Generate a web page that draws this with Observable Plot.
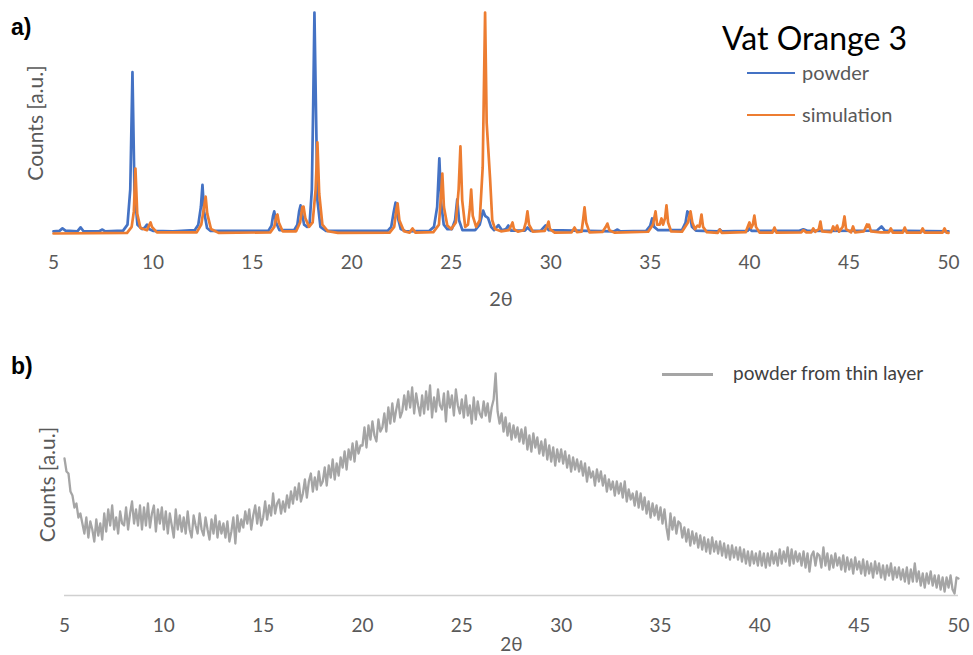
<!DOCTYPE html>
<html><head><meta charset="utf-8">
<script src="https://cdn.jsdelivr.net/npm/d3@7"></script>
<script src="https://cdn.jsdelivr.net/npm/@observablehq/plot@0.6"></script>
<style>
body{margin:0;background:#fff;font-family:Lato,sans-serif}
#wrap{position:relative;width:973px;height:655px;overflow:hidden;background:#fff}
.abs{position:absolute;white-space:nowrap;line-height:1}
.ln{position:absolute;height:0}
</style></head><body><div id="wrap"></div>
<script>
// ---------- data ----------
const xTicks = [5, 10, 15, 20, 25, 30, 35, 40, 45, 50];

// panel a: powder (blue), [2θ, counts a.u.]
const powder = [
[5,1],[5.3,1.2],[5.45,2.3],[5.6,1.3],[6.2,1],[6.36,2.8],[6.5,1.1],[7.3,1],[7.46,1.8],[7.6,1],
[8.5,1.3],[8.72,4],[8.86,20],[8.97,73],[9.07,20],[9.22,4],[9.45,2],[9.6,2.8],[9.7,4],[9.8,2],[10,1.2],
[11,1],[12.1,1.5],[12.28,4],[12.41,12],[12.49,22],[12.57,10],[12.72,2.5],[12.9,1.2],
[15.8,1.2],[15.96,3.5],[16.04,8],[16.1,10],[16.19,5],[16.36,1.5],
[17.1,1.5],[17.26,4],[17.35,10],[17.42,12.7],[17.5,9],[17.6,4],[17.75,3],[17.88,5],[17.99,20],[18.06,60],[18.12,100],[18.19,60],[18.27,15],[18.42,3],[18.7,1.2],
[21.8,1.2],[21.98,3],[22.11,10],[22.2,14],[22.29,8],[22.46,2],[22.7,1],
[23.9,1.2],[24.13,3],[24.29,12],[24.4,34],[24.49,14],[24.62,4],[24.8,2],[25.03,2],[25.19,6],[25.3,15.4],[25.39,6],[25.56,1.5],
[26.2,1.5],[26.43,4],[26.6,10.4],[26.7,8],[26.85,7],[27.0,3],[27.15,1.5],[27.37,3.8],[27.55,1.5],[27.75,2],[27.87,3.6],[28.0,1.3],
[28.7,1.3],[28.83,2.7],[29,1.2],[29.5,1.3],[29.74,3.6],[29.9,1.5],
[33.2,1],[33.36,1.8],[33.5,1],[34.8,1.2],[35.0,3.5],[35.1,6.8],[35.2,3],[35.4,1.5],[36.6,1.5],[36.78,5],[36.87,10],[36.98,9],[37.1,3],[37.3,1.3],
[38.4,1],[38.5,1.8],[38.6,1],[39.9,1.2],[40.0,2.3],[40.1,1.2],[42.5,1.2],[42.7,1.9],[42.9,1.2],[46.4,1.3],[46.63,3.2],[46.8,1.3],[50,1]
];

// panel a: simulation (orange)
const simulation = [
[5,0],[8.7,0.3],[8.93,3],[9.04,10],[9.12,29.4],[9.21,9],[9.37,2.5],[9.7,1.5],[9.82,4],[9.88,5],[9.95,3],[10.2,0.5],
[12.2,0.5],[12.43,4],[12.57,12],[12.65,16.7],[12.73,9],[12.92,2],[13.3,0.3],
[15.9,0.5],[16.1,3],[16.21,8],[16.26,8.6],[16.33,5],[16.52,1],
[17.2,1],[17.4,5],[17.51,12],[17.57,12.2],[17.66,7],[17.85,3],[18.03,5],[18.18,20],[18.27,41.2],[18.36,18],[18.52,4],[18.8,1],[19.3,0.3],
[21.9,0.4],[22.13,3],[22.24,11],[22.3,13.6],[22.39,6],[22.62,1],[22.9,0.4],[23.05,2.3],[23.2,0.4],
[24.1,0.6],[24.38,4],[24.49,18],[24.55,27.1],[24.63,12],[24.8,3.6],[25.0,2],[25.23,5],[25.37,20],[25.46,39.4],[25.55,15],[25.7,3],[25.84,4],[25.94,12],[26.0,19.9],[26.08,8],[26.25,3],[26.43,6],[26.58,30],[26.7,100],[26.78,50],[26.87,36.7],[26.95,25],[27.06,6],[27.2,2],[27.5,1],[27.9,1.5],[28.01,3.5],[28.08,5],[28.15,2],[28.35,0.8],[28.64,1.5],[28.75,5],[28.83,10],[28.91,4],[29.1,0.8],[29.7,1.2],[29.82,3.5],[29.89,5.4],[29.96,2],[30.2,0.4],
[31.05,0.5],[31.2,2.7],[31.32,0.6],[31.55,0.8],[31.64,7],[31.7,11.8],[31.78,5],[31.95,0.5],[32.6,0.7],[32.77,3],[32.85,4.5],[32.95,1.5],[33.2,0.4],
[34.9,0.8],[35.14,4],[35.27,10],[35.35,4],[35.48,4],[35.57,6.8],[35.65,4],[35.75,7],[35.82,12.7],[35.9,5],[36.05,1],[36.6,0.8],[36.9,5],[37.03,10],[37.12,5],[37.25,2],[37.38,3.6],[37.48,3],[37.58,8.6],[37.66,3],[37.85,0.6],
[38.4,0.3],[38.5,1.8],[38.6,0.3],[39.8,0.6],[39.99,5],[40.08,2.5],[40.16,4],[40.24,8.1],[40.32,3],[40.5,0.4],[41.15,0.4],[41.25,2.7],[41.35,0.4],
[42.6,0.5],[42.7,1.5],[42.85,0.5],[43.1,0.5],[43.2,2.3],[43.3,0.8],[43.48,2],[43.56,5.4],[43.64,1],[44.1,0.6],[44.2,3.2],[44.3,1.5],[44.4,3.6],[44.5,0.8],[44.68,3],[44.77,7.7],[44.85,2],[45.1,0.5],[45.2,3.2],[45.3,0.5],[45.75,1],[45.9,4.1],[45.95,3],[46.0,4],[46.1,1],[46.6,0.5],[47.0,0.5],[47.1,2.3],[47.2,0.4],[47.7,0.4],[47.8,2.7],[47.9,0.4],[48.6,0.4],[48.7,2.3],[48.8,0.4],[49.7,0.4],[49.8,2.3],[49.9,0.4],[50,0.3]
];

// panel b: powder from thin layer, one value per 0.1° from 5.0 to 50.0
const thinStart = 5, thinStep = 0.1;
const thinLayer = [
137,124,122,104,100,88,92,78,82,72,
62,78,58,74,66,54,76,60,72,56,
82,64,86,70,90,66,78,62,84,72,
70,88,66,82,94,72,86,70,90,66,
88,70,92,68,82,90,64,86,72,88,
66,84,62,82,70,58,86,66,80,64,
78,62,84,66,58,80,70,62,82,66,
60,78,66,56,76,62,80,58,74,62,
72,58,74,54,64,78,52,80,64,76,
68,84,72,86,66,80,90,72,88,70,
78,94,76,90,80,102,82,92,96,82,
94,84,100,88,104,92,108,96,112,94,
102,116,98,114,122,104,118,106,124,110,
114,128,110,130,118,136,116,132,120,138,
128,144,126,146,136,152,134,154,142,150,
150,168,148,170,156,174,160,154,176,164,
168,182,164,188,172,192,174,186,196,178,
184,200,186,204,188,208,182,202,190,180,
200,182,204,186,210,178,198,184,206,190,
186,202,174,204,188,200,180,206,190,182,
196,178,200,180,190,172,198,176,194,182,
178,194,180,192,174,188,196,222,184,172,
182,164,178,160,172,156,170,158,168,154,
166,152,168,146,160,144,162,148,158,142,
154,140,156,136,150,134,148,130,146,134,
146,132,144,128,140,124,138,126,136,124,
134,120,132,114,128,118,124,110,126,114,
124,110,120,104,116,106,114,100,114,102,
112,98,114,94,106,96,102,90,104,88,
102,86,98,82,94,78,92,80,90,76,
88,72,86,68,56,82,66,78,62,74,
72,58,68,54,66,50,64,52,62,48,
60,46,58,44,56,42,58,44,54,42,
54,40,52,38,50,36,50,38,48,36,
48,34,46,32,44,30,44,32,42,30,
44,30,42,28,42,30,44,32,42,30,
46,32,44,34,48,30,46,32,44,34,
42,30,44,28,42,24,40,44,30,42,
40,28,48,30,42,26,40,28,42,30,
38,26,40,24,38,26,36,22,38,26,
34,22,36,20,34,22,32,18,34,22,
32,18,30,16,30,20,32,16,28,18,
28,16,26,14,28,12,26,14,32,14,
24,10,22,8,22,12,24,10,20,8,
20,6,18,4,18,8,20,6,2,18,
17
];

const legendA = [{name: "powder", color: "#4472C4"}, {name: "simulation", color: "#ED7D31"}];
const legendB = [{name: "powder from thin layer", color: "#A5A5A5"}];

// ---------- build ----------
const wrap = document.getElementById("wrap");
const txt = "#595959";
const thin = thinLayer.map((v, i) => ({x: +(thinStart + i * thinStep).toFixed(2), y: v}));

const A = Plot.plot({
  width: 973, height: 320,
  marginLeft: 53, marginRight: 25, marginTop: 12, marginBottom: 87,
  style: {fontFamily: "Lato", background: "transparent", overflow: "visible"},
  x: {domain: [5, 50]},
  y: {domain: [0, 100], axis: null},
  marks: [
    Plot.axisX({ticks: xTicks, tickSize: 0, tickPadding: 22, label: null, fontSize: 19, fill: txt, tickFormat: d => String(d)}),
    Plot.line(powder, {x: d => d[0], y: d => d[1], stroke: legendA[0].color, strokeWidth: 2.7, strokeLinejoin: "round"}),
    Plot.line(simulation, {x: d => d[0], y: d => d[1], stroke: legendA[1].color, strokeWidth: 2.7, strokeLinejoin: "round"}),
    Plot.text(["2θ"], {text: d => d, frameAnchor: "bottom", lineAnchor: "middle", textAnchor: "middle", dy: 66, fontSize: 20, fill: txt}),
    Plot.text(["Counts [a.u.]"], {text: d => d, frameAnchor: "left", lineAnchor: "middle", textAnchor: "middle", rotate: -90, dx: -17, fontSize: 21, fill: txt})
  ]
});
A.style.position = "absolute"; A.style.left = "0px"; A.style.top = "0px";
wrap.appendChild(A);

const B = Plot.plot({
  width: 973, height: 325,
  marginLeft: 64, marginRight: 15, marginTop: 43, marginBottom: 60,
  style: {fontFamily: "Lato", background: "transparent", overflow: "visible"},
  x: {domain: [5, 50]},
  y: {domain: [0, 222], axis: null},
  marks: [
    Plot.ruleY([0], {stroke: "#D0D0D0", strokeWidth: 1.5}),
    Plot.line(thin, {x: "x", y: "y", stroke: legendB[0].color, strokeWidth: 2.3, strokeLinejoin: "round"}),
    Plot.axisX({ticks: xTicks, tickSize: 0, tickPadding: 23, label: null, fontSize: 19, fill: txt, tickFormat: d => String(d)}),
    Plot.text(["2θ"], {text: d => d, frameAnchor: "bottom", lineAnchor: "middle", textAnchor: "middle", dy: 49, fontSize: 19, fill: txt}),
    Plot.text(["Counts [a.u.]"], {text: d => d, frameAnchor: "left", lineAnchor: "middle", textAnchor: "middle", rotate: -90, dx: -16, fontSize: 21, fill: txt})
  ]
});
B.style.position = "absolute"; B.style.left = "0px"; B.style.top = "330px";
wrap.appendChild(B);

function addText(s, left, top, css) {
  const d = document.createElement("div");
  d.className = "abs"; d.textContent = s;
  d.style.left = left + "px"; d.style.top = top + "px";
  Object.assign(d.style, css);
  wrap.appendChild(d);
}
function addLine(left, top, w, color, h) {
  const d = document.createElement("div");
  d.className = "ln";
  d.style.left = left + "px"; d.style.top = (top - h / 2) + "px";
  d.style.width = w + "px"; d.style.borderTop = h + "px solid " + color;
  wrap.appendChild(d);
}

addText("a)", 11, 16, {fontFamily: "Liberation Sans", fontWeight: "bold", fontSize: "23px", color: "#000"});
addText("b)", 11, 355, {fontFamily: "Liberation Sans", fontWeight: "bold", fontSize: "23px", color: "#000"});
addText("Vat Orange 3", 722, 22, {fontFamily: "Lato", fontSize: "32px", color: "#000"});
legendA.forEach((s, i) => {
  const cy = 73 + i * 42;
  addLine(747, cy, 48, s.color, 2.5);
  addText(s.name, 802, cy - 11, {fontFamily: "Lato", fontSize: "20px", color: txt});
});
legendB.forEach((s, i) => {
  addLine(662, 374, 51, s.color, 3);
  addText(s.name, 733, 374 - 11, {fontFamily: "Lato", fontSize: "19px", color: "#404040"});
});
</script></body></html>
